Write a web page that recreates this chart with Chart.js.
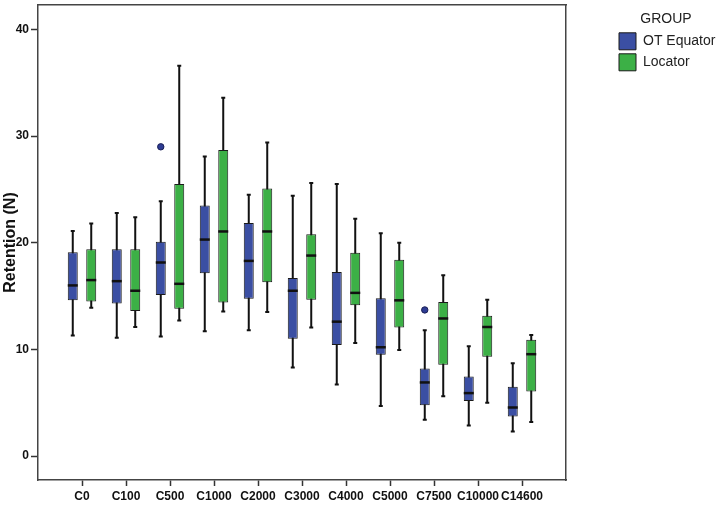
<!DOCTYPE html>
<html>
<head>
<meta charset="utf-8">
<script src="https://cdn.jsdelivr.net/npm/chart.js@4.4.7/dist/chart.umd.min.js"></script>
<style>
  html, body { margin: 0; padding: 0; background: #fff; }
  #wrap { width: 717px; height: 510px; }
</style>
</head>
<body>
<div id="wrap"><canvas id="chart"></canvas></div>
<script>
const categories = ['C0', 'C100', 'C500', 'C1000', 'C2000', 'C3000', 'C4000', 'C5000', 'C7500', 'C10000', 'C14600'];
const yTicks = [0, 10, 20, 30, 40];

// OT Equator
const equatorMin = [11.3, 11.1, 11.2, 11.7, 11.8, 8.3, 6.7, 4.7, 3.4, 2.85, 2.3];
const equatorQ1 = [14.6, 14.3, 15.1, 17.15, 14.75, 11.0, 10.4, 9.5, 4.75, 5.15, 3.7];
const equatorMed = [16.0, 16.4, 18.15, 20.3, 18.3, 15.5, 12.6, 10.2, 6.9, 5.9, 4.55];
const equatorQ3 = [19.1, 19.4, 20.1, 23.5, 21.85, 16.7, 17.25, 14.8, 8.2, 7.45, 6.5];
const equatorMax = [21.1, 22.8, 23.9, 28.1, 24.5, 24.4, 25.5, 20.9, 11.8, 10.3, 8.7];
const equatorOutliers = [[], [], [29.0], [], [], [], [], [], [13.7], [], []];

// Locator
const locatorMin = [13.9, 12.1, 12.7, 13.55, 13.5, 12.05, 10.6, 9.95, 5.6, 5.0, 3.2];
const locatorQ1 = [14.5, 13.6, 13.8, 14.4, 16.3, 14.65, 14.15, 12.05, 8.55, 9.3, 6.05];
const locatorMed = [16.5, 15.5, 16.15, 21.06, 21.06, 18.8, 15.3, 14.6, 12.9, 12.1, 9.55];
const locatorQ3 = [19.4, 19.4, 25.5, 28.7, 25.1, 20.8, 19.06, 18.4, 14.45, 13.15, 10.9];
const locatorMax = [21.8, 22.4, 36.6, 33.6, 29.4, 25.6, 22.25, 20.0, 16.95, 14.65, 11.35];
const locatorOutliers = [[], [], [], [], [], [], [], [], [], [], []];

// one empty slot on each side so the boxes sit a full step in from the frame
const pad = arr => [null, ...arr, null];
const labels = pad(categories).map(c => c === null ? '' : c);
const lastIndex = labels.length - 1;

function boxDataset(label, color, lo, q1, med, q3, hi, out) {
  return {
    label: label,
    data: pad(q1.map((v, i) => [v, q3[i]])),
    backgroundColor: color,
    borderColor: '#1a1a1a',
    borderWidth: 1,
    borderSkipped: false,
    categoryPercentage: 0.84,
    barPercentage: 0.54,
    lo: pad(lo), med: pad(med), hi: pad(hi), out: pad(out)
  };
}

const boxPlot = {
  id: 'boxPlot',
  beforeDatasetsDraw(chart) {
    const {ctx, scales: {y}} = chart;
    ctx.save();
    ctx.strokeStyle = '#111';
    ctx.lineWidth = 2;
    chart.data.datasets.forEach((ds, i) => {
      chart.getDatasetMeta(i).data.forEach((bar, j) => {
        if (ds.lo[j] == null) return;
        const top = y.getPixelForValue(ds.hi[j]);
        const bottom = y.getPixelForValue(ds.lo[j]);
        ctx.beginPath();
        ctx.moveTo(bar.x, top);
        ctx.lineTo(bar.x, bottom);
        ctx.moveTo(bar.x - 2, top);
        ctx.lineTo(bar.x + 2, top);
        ctx.moveTo(bar.x - 2, bottom);
        ctx.lineTo(bar.x + 2, bottom);
        ctx.stroke();
      });
    });
    ctx.restore();
  },
  afterDatasetsDraw(chart) {
    const {ctx, scales: {y}} = chart;
    ctx.save();
    chart.data.datasets.forEach((ds, i) => {
      chart.getDatasetMeta(i).data.forEach((bar, j) => {
        if (ds.med[j] == null) return;
        const m = y.getPixelForValue(ds.med[j]);
        ctx.strokeStyle = '#111';
        ctx.lineWidth = 2.5;
        ctx.beginPath();
        ctx.moveTo(bar.x - bar.width / 2, m);
        ctx.lineTo(bar.x + bar.width / 2, m);
        ctx.stroke();
        ds.out[j].forEach(v => {
          ctx.beginPath();
          ctx.arc(bar.x, y.getPixelForValue(v), 3.2, 0, Math.PI * 2);
          ctx.fillStyle = '#2e3c94';
          ctx.fill();
          ctx.lineWidth = 1;
          ctx.strokeStyle = '#1a1f55';
          ctx.stroke();
        });
      });
    });
    ctx.restore();
  }
};

Chart.defaults.font.family = 'Arial, "Liberation Sans", sans-serif';

const frame = { color: '#444', width: 1.5 };
const noPad = s => { s.paddingTop = 0; s.paddingBottom = 0; s.paddingLeft = 0; s.paddingRight = 0; };

new Chart(document.getElementById('chart'), {
  type: 'bar',
  data: {
    labels: labels,
    datasets: [
      boxDataset('OT Equator', '#3b4fa3', equatorMin, equatorQ1, equatorMed, equatorQ3, equatorMax, equatorOutliers),
      boxDataset('Locator', '#3cb046', locatorMin, locatorQ1, locatorMed, locatorQ3, locatorMax, locatorOutliers)
    ]
  },
  options: {
    responsive: true,
    maintainAspectRatio: false,
    animation: false,
    layout: { padding: 0 },
    plugins: {
      tooltip: { enabled: false },
      legend: {
        position: 'right',
        align: 'start',
        maxWidth: 102,
        title: { display: true, text: 'GROUP', color: '#222', font: { size: 14 }, padding: { top: 12, bottom: 0 } },
        labels: { boxWidth: 17, boxHeight: 17, padding: 4, color: '#222', font: { size: 14 } }
      }
    },
    scales: {
      x: {
        type: 'category',
        offset: false,
        grid: {
          display: true, drawOnChartArea: false, offset: false, tickLength: 6, tickWidth: 1.5,
          tickColor: c => (c.index === 0 || c.index === lastIndex) ? 'rgba(0,0,0,0)' : '#333'
        },
        border: frame,
        ticks: { color: '#111', font: { size: 12, weight: 'bold' }, padding: 3, autoSkip: false, maxRotation: 0 },
        afterFit: s => { noPad(s); s.height = 30; }
      },
      xT: {
        type: 'linear', position: 'top', display: true,
        grid: { display: false }, ticks: { display: false }, border: frame,
        afterFit: s => { noPad(s); s.height = 5; }
      },
      y: {
        min: -2.25,
        max: 42.3,
        afterBuildTicks: s => { s.ticks = yTicks.map(v => ({ value: v })); },
        grid: { drawOnChartArea: false, tickLength: 7, tickWidth: 1.5, tickColor: '#333' },
        border: frame,
        ticks: { color: '#111', font: { size: 12, weight: 'bold' }, padding: 2 },
        title: { display: true, text: 'Retention (N)', color: '#111', font: { size: 16, weight: 'bold' }, padding: 1 },
        afterFit: s => { noPad(s); s.width = 38; }
      },
      yR: {
        type: 'linear', position: 'right', display: true,
        grid: { display: false }, ticks: { display: false }, border: frame,
        afterFit: s => { noPad(s); s.width = 49; }
      }
    }
  },
  plugins: [boxPlot]
});
</script>
</body>
</html>
